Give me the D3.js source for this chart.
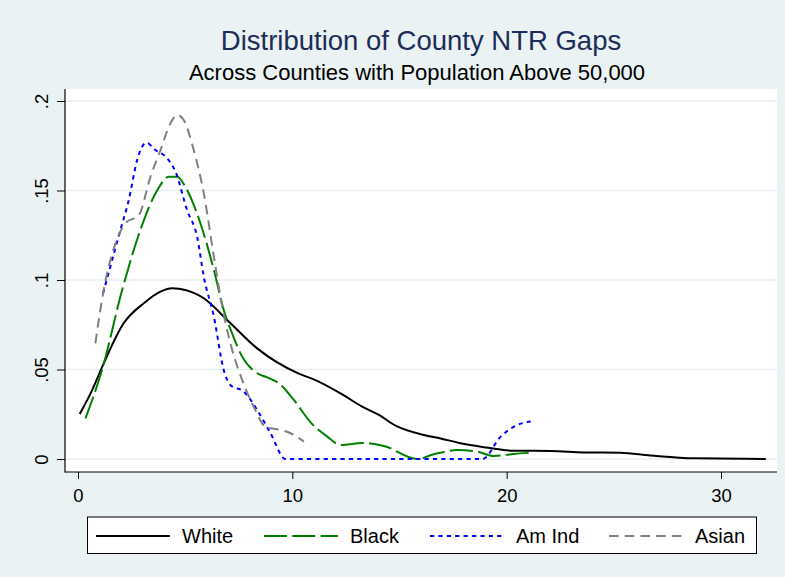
<!DOCTYPE html>
<html>
<head>
<meta charset="utf-8">
<script src="https://cdn.jsdelivr.net/npm/d3@7"></script>
<style>
  html, body { margin: 0; padding: 0; background: #eaf2f3; }
  svg { display: block; font-family: "Liberation Sans", Arial, sans-serif; }
</style>
</head>
<body>
<svg id="chart" width="785" height="577"></svg>
<script>
// NTR gap (x) and kernel density (y) for each group
const whiteGap = [0.08, 0.66, 1.2, 2.13, 3.07, 3.85, 4.39, 4.7, 5.87, 6.96, 8.36, 10.3, 11.0, 12.33, 13.26, 14.04, 14.82, 16.14, 16.92, 17.85, 18.79, 20.34, 22.05, 23.6, 25.3, 26.7, 28.74, 31.08, 32.09];
const whiteDensity = [0.0251, 0.0385, 0.0534, 0.0758, 0.087, 0.0935, 0.0954, 0.0951, 0.0898, 0.0777, 0.0618, 0.0477, 0.0445, 0.0361, 0.0292, 0.0246, 0.0186, 0.0134, 0.0115, 0.0088, 0.0069, 0.0046, 0.0045, 0.0037, 0.0035, 0.002, 0.0004, 0.0002, 0.0];

const blackGap = [0.35, 1.12, 2.06, 2.91, 3.69, 4.24, 4.63, 5.01, 5.71, 6.34, 6.8, 7.19, 7.66, 8.36, 8.83, 9.37, 10.07, 10.85, 11.63, 12.25, 13.3, 14.27, 15.83, 16.6, 17.7, 18.63, 19.4, 20.34, 21.12];
const blackDensity = [0.0227, 0.0497, 0.0944, 0.128, 0.150, 0.1577, 0.1577, 0.152, 0.1317, 0.1056, 0.0832, 0.0702, 0.0572, 0.0479, 0.0456, 0.0423, 0.033, 0.0205, 0.0125, 0.0078, 0.009, 0.0073, 0.0, 0.0026, 0.005, 0.0041, 0.0017, 0.0028, 0.0035];

const amIndGap = [1.17, 1.59, 1.98, 2.37, 2.76, 3.19, 3.61, 4.16, 4.55, 5.09, 5.56, 5.87, 6.34, 6.8, 7.11, 7.74, 8.36, 8.98, 9.68, 18.87, 19.72, 20.5, 21.12];
const amIndDensity = [0.0926, 0.111, 0.128, 0.1447, 0.167, 0.1767, 0.1726, 0.168, 0.1605, 0.139, 0.124, 0.1018, 0.0795, 0.0497, 0.0413, 0.0376, 0.0274, 0.0144, 0, 0, 0.0125, 0.019, 0.0209];

const asianGap = [0.81, 1.2, 1.75, 2.21, 2.84, 3.38, 3.85, 4.31, 4.63, 4.93, 5.4, 5.87, 6.34, 6.73, 7.11, 7.66, 8.2, 8.75, 9.29, 9.92, 10.54];
const asianDensity = [0.0646, 0.0944, 0.1205, 0.1317, 0.1363, 0.1577, 0.1726, 0.1875, 0.1922, 0.1894, 0.1726, 0.1484, 0.113, 0.0851, 0.0646, 0.0441, 0.0292, 0.018, 0.0166, 0.0144, 0.0097];

const groupNames = ["White", "Black", "Am Ind", "Asian"];
const xTicks = [0, 10, 20, 30];
const yTicks = [0, 0.05, 0.1, 0.15, 0.2];
const yTickLabels = ["0", ".05", ".1", ".15", ".2"];

const titleText = "Distribution of County NTR Gaps";
const subtitleText = "Across Counties with Population Above 50,000";

const series = [
  { name: groupNames[0], gap: whiteGap, density: whiteDensity, color: "#000000", dash: null },
  { name: groupNames[1], gap: blackGap, density: blackDensity, color: "#008000", dash: "23,5.3" },
  { name: groupNames[2], gap: amIndGap, density: amIndDensity, color: "#0000ff", dash: "4.2,4.2" },
  { name: groupNames[3], gap: asianGap, density: asianDensity, color: "#808080", dash: "9.6,6.1" }
];

const svg = d3.select("#chart");
const W = 785, H = 577;

// plot region
const plot = { left: 65, right: 777, top: 89, bottom: 472 };

svg.append("rect").attr("x", 0).attr("y", 0).attr("width", W).attr("height", H).attr("fill", "#eaf2f3");
svg.append("rect")
  .attr("x", plot.left).attr("y", plot.top)
  .attr("width", plot.right - plot.left).attr("height", plot.bottom - plot.top)
  .attr("fill", "#ffffff");

const x = d3.scaleLinear().domain([0, 30]).range([78, 721]);
const y = d3.scaleLinear().domain([0, 0.2]).range([459, 101]);

// horizontal grid lines
svg.append("g").selectAll("line").data(yTicks).join("line")
  .attr("x1", plot.left).attr("x2", plot.right)
  .attr("y1", d => y(d)).attr("y2", d => y(d))
  .attr("stroke", "#e6eff1").attr("stroke-width", 1.6);

// titles
svg.append("text").attr("x", 421).attr("y", 50).attr("text-anchor", "middle")
  .attr("font-size", 27.5).attr("fill", "#1c2d5a").text(titleText);
svg.append("text").attr("x", 417).attr("y", 80).attr("text-anchor", "middle")
  .attr("font-size", 22).attr("fill", "#000000").text(subtitleText);

// density curves
const line = d3.line().curve(d3.curveMonotoneX).x(d => x(d[0])).y(d => y(d[1]));
const curves = svg.append("g");
series.forEach(s => {
  const pts = s.gap.map((g, i) => [g, s.density[i]]);
  curves.append("path")
    .datum(pts)
    .attr("d", line)
    .attr("fill", "none")
    .attr("stroke", s.color)
    .attr("stroke-width", 2)
    .attr("stroke-dasharray", s.dash);
});

// y axis
const yAxis = svg.append("g").attr("transform", `translate(${plot.left},0)`)
  .call(d3.axisLeft(y).tickValues(yTicks).tickSize(8)
    .tickFormat((d, i) => yTickLabels[i]));
yAxis.select(".domain").remove();
yAxis.selectAll(".tick line").attr("stroke", "#000").attr("stroke-width", 1);
yAxis.selectAll(".tick text")
  .attr("x", null).attr("dy", null)
  .attr("transform", "translate(-17,0) rotate(-90)")
  .attr("text-anchor", "middle")
  .attr("font-size", 18.5).attr("fill", "#000")
  .style("font-family", "Liberation Sans, Arial, sans-serif");

// x axis
const xAxis = svg.append("g").attr("transform", `translate(0,${plot.bottom})`)
  .call(d3.axisBottom(x).tickValues(xTicks).tickSize(7));
xAxis.select(".domain").remove();
xAxis.selectAll(".tick line").attr("stroke", "#000").attr("stroke-width", 1);
xAxis.selectAll(".tick text")
  .attr("y", 30).attr("dy", null)
  .attr("font-size", 18.5).attr("fill", "#000")
  .style("font-family", "Liberation Sans, Arial, sans-serif");

// axis lines
svg.append("line").attr("x1", plot.left).attr("x2", plot.left)
  .attr("y1", plot.top).attr("y2", plot.bottom + 0.5)
  .attr("stroke", "#000").attr("stroke-width", 1.2);
svg.append("line").attr("x1", plot.left).attr("x2", plot.right)
  .attr("y1", plot.bottom).attr("y2", plot.bottom)
  .attr("stroke", "#000").attr("stroke-width", 1.2);

// legend
const legend = svg.append("g");
legend.append("rect").attr("x", 87.5).attr("y", 517).attr("width", 669).attr("height", 36.5)
  .attr("fill", "#ffffff").attr("stroke", "#000").attr("stroke-width", 1);
const legendLineX = [96, 264, 430, 609];
series.forEach((s, i) => {
  legend.append("line")
    .attr("x1", legendLineX[i]).attr("x2", legendLineX[i] + 74)
    .attr("y1", 536).attr("y2", 536)
    .attr("stroke", s.color).attr("stroke-width", 2)
    .attr("stroke-dasharray", s.dash);
  legend.append("text")
    .attr("x", legendLineX[i] + 86).attr("y", 543)
    .attr("font-size", 20).attr("fill", "#000")
    .text(s.name);
});
</script>
</body>
</html>
